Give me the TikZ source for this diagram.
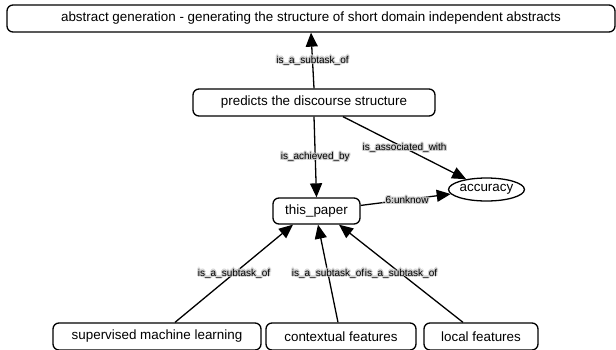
\documentclass[tikz,border=0pt]{standalone}
\usepackage{fontspec}
\setmainfont{Liberation Sans}
\usetikzlibrary{arrows.meta,shapes.geometric}

% edge label text with a soft grey halo behind the glyphs
\newcommand\halocopy[3]{\rlap{\kern#1\raisebox{#2}{\textcolor{black!20}{#3}}}}
\newcommand\halotext[1]{%
  \leavevmode
  \halocopy{1.2pt}{0pt}{#1}\halocopy{-1.2pt}{0pt}{#1}%
  \halocopy{0pt}{1.2pt}{#1}\halocopy{0pt}{-1.2pt}{#1}%
  \halocopy{.85pt}{.85pt}{#1}\halocopy{-.85pt}{.85pt}{#1}%
  \halocopy{.85pt}{-.85pt}{#1}\halocopy{-.85pt}{-.85pt}{#1}%
  \textcolor{black}{#1}}

\tikzset{
  concept/.style={draw, line width=1.3pt, rounded corners=6pt, inner sep=0pt,
    minimum height=27pt, font=\fontsize{13.4}{15}\selectfont},
  valuenode/.style={draw, ellipse, line width=1.3pt, inner sep=0pt,
    minimum width=69pt, minimum height=23pt, font=\fontsize{13.4}{15}\selectfont},
  relation/.style={line width=1.3pt, -{Triangle[length=14pt,width=12pt]}},
  rellabel/.style={inner sep=0pt, font=\fontsize{10}{12}\selectfont},
}

\begin{document}
\begin{tikzpicture}[x=1pt, y=-1pt]
  \fill[white] (0,0) rectangle (616,349);
  \useasboundingbox (0,0) rectangle (616,349);

  % concepts
  \node[concept, minimum width=608pt] (top) at (311,18.5)
    {abstract generation - generating the structure of short domain independent abstracts};
  \node[concept, minimum width=242pt] (pred) at (314,102.5) {predicts the discourse structure};
  \node[concept, minimum width=87pt, minimum height=26pt] (tp) at (316.5,211) {this\_paper};
  \node[valuenode] (acc) at (486.5,189.5) {accuracy};
  \node[concept, minimum width=208pt] (sup) at (157,336.5) {supervised machine learning};
  \node[concept, minimum width=150pt] (ctx) at (341,336.5) {contextual features};
  \node[concept, minimum width=114pt] (loc) at (481,336.5) {local features};

  % relations
  \draw[relation] (pred.north) -- (top.south)
    node[rellabel, midway] {\halotext{is\_a\_subtask\_of}};
  \draw[relation] (pred.south) -- (tp.north)
    node[rellabel, midway] {\halotext{is\_achieved\_by}};
  \draw[relation] ([xshift=29pt]pred.south) -- (acc)
    node[rellabel, midway] {\halotext{is\_associated\_with}};
  \draw[relation] (tp) -- (acc)
    node[rellabel, midway] {\halotext{.6:unknow}};
  \draw[relation] ([xshift=18pt]sup.north) -- ([xshift=-23.5pt]tp.south)
    node[rellabel, midway] {\halotext{is\_a\_subtask\_of}};
  \draw[relation] ([xshift=-3pt]ctx.north) -- ([xshift=1.5pt]tp.south)
    node[rellabel, midway] {\halotext{is\_a\_subtask\_of}};
  \draw[relation] ([xshift=-18pt]loc.north) -- ([xshift=22.5pt]tp.south)
    node[rellabel, midway] {\halotext{is\_a\_subtask\_of}};
\end{tikzpicture}
\end{document}
